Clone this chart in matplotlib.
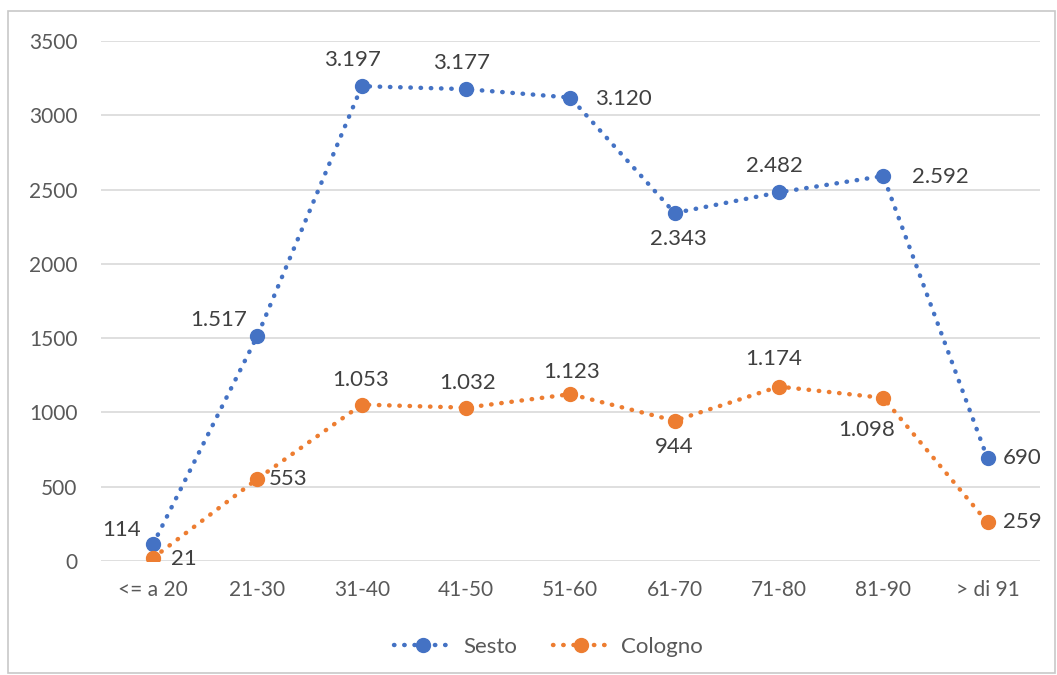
import matplotlib.pyplot as plt
from matplotlib.patches import Rectangle

# fasce d'età e valori per comune
fasce = ['<= a 20', '21-30', '31-40', '41-50', '51-60', '61-70', '71-80', '81-90', '> di 91']
sesto = [114, 1517, 3197, 3177, 3120, 2343, 2482, 2592, 690]
cologno = [21, 553, 1053, 1032, 1123, 944, 1174, 1098, 259]

# posizione delle etichette: (dx, dy) in punti
pos_sesto = [(-23, 10), (-28, 11), (-7, 19), (-3, 19), (38, -1), (3, -19), (-3, 19), (41, -1), (25, 0)]
pos_cologno = [(22, -1), (22, 0), (-1, 18), (1, 18), (1, 16), (0, -19), (-4, 20), (-12, -23), (25, 0)]

blu = '#4472C4'
arancio = '#ED7D31'
grigio = '#595959'

plt.rcParams['font.family'] = ['Lato', 'DejaVu Sans']

fig = plt.figure(figsize=(10.57, 6.75), dpi=100)
ax = fig.add_axes([0.0956, 0.169, 0.888, 0.770])

x = list(range(len(fasce)))
for serie, col, nome, pos in [(sesto, blu, 'Sesto', pos_sesto), (cologno, arancio, 'Cologno', pos_cologno)]:
    ax.plot(x, serie, color=col, linestyle=(0, (0.1, 2.2)), linewidth=3.2,
            dash_capstyle='round', marker='o', markersize=10, label=nome, zorder=3)
    for xi, v, (dx, dy) in zip(x, serie, pos):
        testo = f'{v:,}'.replace(',', '.')
        ax.annotate(testo, (xi, v), xytext=(dx, dy), textcoords='offset points',
                    ha='center', va='center', fontsize=16, color='#404040')

ax.set_xlim(-0.5, len(fasce) - 0.5)
ax.set_ylim(0, 3500)
ax.set_yticks(range(0, 3501, 500))
ax.set_xticks(x)
ax.set_xticklabels(fasce)
ax.tick_params(axis='both', length=0, labelsize=15, colors=grigio)
ax.tick_params(axis='x', pad=14)
ax.tick_params(axis='y', pad=17)
ax.grid(axis='y', color='#d9d9d9', linewidth=1.2)
ax.set_axisbelow(True)
for s in ax.spines.values():
    s.set_visible(False)

ax.legend(loc='center', bbox_to_anchor=(0.477, -0.165), ncol=2, frameon=False,
          fontsize=16, labelcolor=grigio, handlelength=2.6, handletextpad=0.5,
          columnspacing=1.6)

# cornice grigia attorno al grafico
fig.patches.append(Rectangle((8 / 1057, 2 / 675), 1047 / 1057, 662 / 675,
                             transform=fig.transFigure, fill=False,
                             edgecolor='#c8c8c8', linewidth=1.2))

fig.savefig('out.png', dpi=100)
